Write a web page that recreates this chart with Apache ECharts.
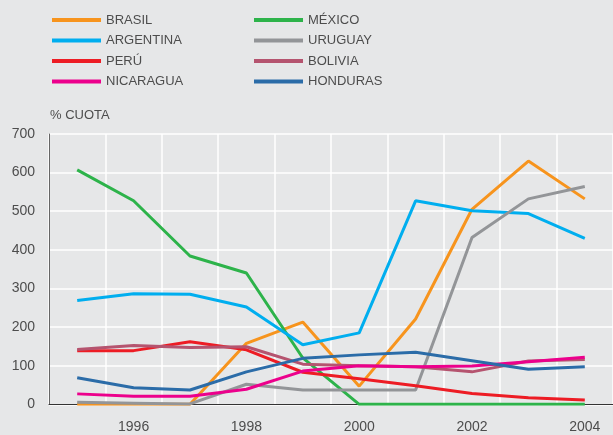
<!DOCTYPE html>
<html>
<head>
<meta charset="utf-8">
<script src="https://cdn.jsdelivr.net/npm/echarts@6/dist/echarts.min.js"></script>
<style>
  html, body { margin: 0; padding: 0; background: #e6e7e8; }
  #chart { width: 613px; height: 435px; }
</style>
</head>
<body>
<div id="chart"></div>
<script>
// Years on the horizontal axis
const years = ['1995', '1996', '1997', '1998', '1999', '2000', '2001', '2002', '2003', '2004'];

// Share values (% cuota) per country
const brasil    = [0, 0, 0, 158, 213, 47, 221, 505, 630, 532];
const mexico    = [607, 527, 384, 340, 120, 0, 0, 0, 0, 0];
const argentina = [269, 286, 285, 252, 154, 185, 527, 501, 494, 430];
const uruguay   = [5, 3, 1, 52, 37, 37, 37, 432, 532, 564];
const peru      = [139, 139, 162, 141, 83, 66, 48, 28, 17, 11];
const bolivia   = [142, 152, 147, 149, 104, 100, 97, 84, 112, 116];
const nicaragua = [27, 21, 21, 39, 86, 100, 97, 99, 110, 122];
const honduras  = [69, 43, 37, 84, 119, 128, 135, 113, 91, 97];

const yTicks = { min: 0, max: 700, interval: 100 };

const seriesDefs = [
  { name: 'BRASIL', data: brasil, color: '#f7941d' },
  { name: 'MÉXICO', data: mexico, color: '#2db34a' },
  { name: 'ARGENTINA', data: argentina, color: '#00aeef' },
  { name: 'URUGUAY', data: uruguay, color: '#939598' },
  { name: 'PERÚ', data: peru, color: '#ed1c24' },
  { name: 'BOLIVIA', data: bolivia, color: '#b5546f' },
  { name: 'NICARAGUA', data: nicaragua, color: '#ec008c' },
  { name: 'HONDURAS', data: honduras, color: '#2b6ca8' }
];

const textColor = '#4d4d4d';
const fontFamily = 'Liberation Sans, Arial, sans-serif';

const legendCommon = {
  orient: 'vertical',
  top: 12,
  padding: 0,
  icon: 'rect',
  itemWidth: 49,
  itemHeight: 4,
  itemGap: 4.5,
  textStyle: { color: textColor, fontSize: 13, fontFamily: fontFamily, lineHeight: 16 },
  selectedMode: false
};

const chart = echarts.init(document.getElementById('chart'), null, { renderer: 'canvas' });

chart.setOption({
  backgroundColor: '#e6e7e8',
  animation: false,
  title: {
    text: '% CUOTA',
    left: 45,
    top: 104,
    textStyle: { color: textColor, fontSize: 13, fontWeight: 'normal', fontFamily: fontFamily }
  },
  legend: [
    Object.assign({}, legendCommon, { left: 52, data: ['BRASIL', 'ARGENTINA', 'PERÚ', 'NICARAGUA'] }),
    Object.assign({}, legendCommon, { left: 254, data: ['MÉXICO', 'URUGUAY', 'BOLIVIA', 'HONDURAS'] })
  ],
  grid: { left: 49, right: -1, top: 134, bottom: 30.7, containLabel: false },
  xAxis: {
    type: 'category',
    data: years,
    boundaryGap: true,
    axisLine: { lineStyle: { color: '#333333', width: 1 } },
    axisTick: { show: false },
    axisLabel: {
      interval: function (index) { return index % 2 === 1; },
      color: textColor,
      fontSize: 14,
      fontFamily: fontFamily,
      margin: 16
    },
    splitLine: { show: true, interval: 0, lineStyle: { color: '#ffffff', width: 1.5 } }
  },
  yAxis: {
    type: 'value',
    min: yTicks.min,
    max: yTicks.max,
    interval: yTicks.interval,
    axisLine: { show: true, lineStyle: { color: '#666666', width: 1 } },
    axisTick: { show: false },
    axisLabel: { color: textColor, fontSize: 14, fontFamily: fontFamily, margin: 14 },
    splitLine: { show: true, lineStyle: { color: '#ffffff', width: 1.5 } }
  },
  series: seriesDefs.map(function (s) {
    return {
      name: s.name,
      type: 'line',
      data: s.data,
      symbol: 'none',
      color: s.color,
      lineStyle: { color: s.color, width: 3 },
      itemStyle: { color: s.color }
    };
  })
});
</script>
</body>
</html>
